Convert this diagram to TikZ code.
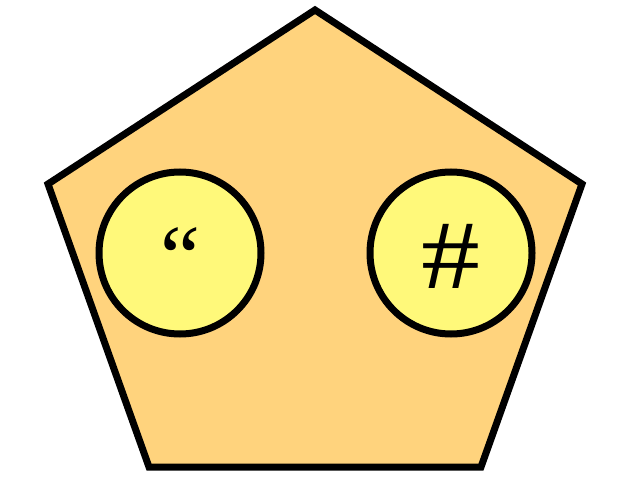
\documentclass[tikz,border=0pt]{standalone}
\usepackage{fontspec}
\setmainfont{Liberation Serif}
\usetikzlibrary{positioning, calc}
\definecolor{penta}{RGB}{255, 211, 125}
\definecolor{bolha}{RGB}{255, 249, 122}

\begin{document}
\begin{tikzpicture}[
    x=1pt, y=-1pt,
    every node/.style={font=\fontsize{90}{90}\selectfont},
    bolinha/.style={circle, draw=black, fill=bolha, line width=7pt, minimum size=162pt, inner sep=0pt}
]

\useasboundingbox (0,0) rectangle (634,492);

% ------------------------------------------------
% Pentagono
% ------------------------------------------------

\coordinate (topo) at (315,10);
\coordinate (dir) at (582,184);
\coordinate (infdir) at (481,467);
\coordinate (infesq) at (149,467);
\coordinate (esq) at (48,184);

\draw[
    fill=penta,
    line width=7pt,
    line join=miter
] (topo) -- (dir) -- (infdir) -- (infesq) -- (esq) -- cycle;

% ------------------------------------------------
% Circulos
% ------------------------------------------------

\node[bolinha] (aspas) at (180,253) {};

\node[bolinha] (cerquilha) at (451,253) {};

\node[
    anchor=base
] (txtaspas) at ($(aspas.center)+(0,34)$)
{“};

\node[
    anchor=base,
    font=\fontsize{98}{98}\selectfont
] (txtcerq) at ($(cerquilha.center)+(0,35)$)
{\scalebox{1.2}[1]{\#}};

\end{tikzpicture}
\end{document}
